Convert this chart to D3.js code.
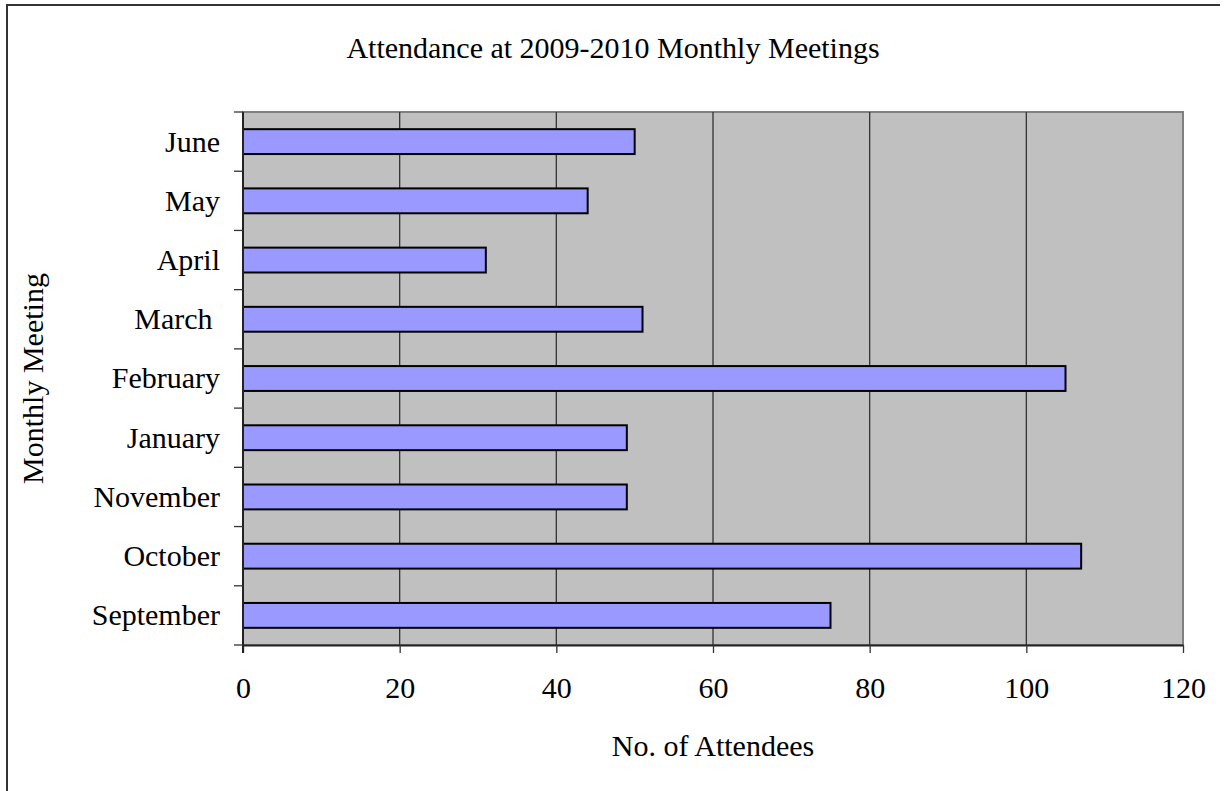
<!DOCTYPE html>
<html>
<head>
<meta charset="utf-8">
<script src="https://cdn.jsdelivr.net/npm/d3@7"></script>
<style>
  body { margin: 0; background: #fff; }
  text { font-family: "Liberation Serif", "Times New Roman", serif; fill: #000; }
</style>
</head>
<body>
<div id="chart"></div>
<script>
// Attendance bar chart (horizontal)

const months = ['September', 'October', 'November', 'January', 'February', 'March ', 'April', 'May', 'June'];
const attendees = [75, 107, 49, 49, 105, 51, 31, 44, 50];
const xTicks = [0, 20, 40, 60, 80, 100, 120];

const width = 1225, height = 791;
const plot = { left: 243, right: 1183, top: 112, bottom: 645 };

const svg = d3.select('#chart').append('svg')
    .attr('width', width)
    .attr('height', height);

// outer frame (only left and top edges are visible)
svg.append('path')
    .attr('d', `M7,${height} L7,5 L1220,5`)
    .attr('fill', 'none')
    .attr('stroke', '#333')
    .attr('stroke-width', 2);

const x = d3.scaleLinear()
    .domain([0, 120])
    .range([plot.left, plot.right]);

// first month at the bottom
const y = d3.scaleBand()
    .domain(months)
    .range([plot.bottom, plot.top])
    .paddingInner(0.58)
    .paddingOuter(0.29);

// plot background
svg.append('rect')
    .attr('x', plot.left)
    .attr('y', plot.top)
    .attr('width', plot.right - plot.left)
    .attr('height', plot.bottom - plot.top)
    .attr('fill', '#c0c0c0')
    .attr('stroke', '#808080')
    .attr('stroke-width', 2);

// vertical grid lines
svg.append('g')
    .selectAll('line')
    .data(xTicks.slice(1, -1))
    .enter()
    .append('line')
    .attr('x1', d => x(d))
    .attr('x2', d => x(d))
    .attr('y1', plot.top)
    .attr('y2', plot.bottom)
    .attr('stroke', '#333')
    .attr('stroke-width', 1.3);

// bars
svg.append('g')
    .selectAll('rect')
    .data(months)
    .enter()
    .append('rect')
    .attr('x', x(0))
    .attr('y', d => y(d))
    .attr('width', (d, i) => x(attendees[i]) - x(0))
    .attr('height', y.bandwidth())
    .attr('fill', '#9999ff')
    .attr('stroke', '#000')
    .attr('stroke-width', 2);

// x axis
const xAxis = svg.append('g')
    .attr('transform', `translate(0,${plot.bottom})`)
    .call(d3.axisBottom(x).tickValues(xTicks).tickSize(8).tickSizeOuter(0).tickPadding(24));
xAxis.select('.domain').attr('stroke', '#222').attr('stroke-width', 2);
xAxis.selectAll('.tick line').attr('stroke', '#333').attr('stroke-width', 1.3);
xAxis.selectAll('.tick text')
    .attr('font-family', '"Liberation Serif", serif')
    .attr('font-size', 30)
    .attr('fill', '#000');

// y axis: ticks sit on the category boundaries
const boundaries = d3.range(months.length + 1).map(i => plot.bottom - i * y.step());
const yAxis = svg.append('g');
yAxis.append('line')
    .attr('x1', plot.left).attr('x2', plot.left)
    .attr('y1', plot.top).attr('y2', plot.bottom + 8)
    .attr('stroke', '#222')
    .attr('stroke-width', 2);
yAxis.selectAll('.ytick')
    .data(boundaries)
    .enter()
    .append('line')
    .attr('class', 'ytick')
    .attr('x1', plot.left - 9).attr('x2', plot.left)
    .attr('y1', d => d).attr('y2', d => d)
    .attr('stroke', '#333')
    .attr('stroke-width', 1.3);
yAxis.selectAll('.ylabel')
    .data(months)
    .enter()
    .append('text')
    .attr('class', 'ylabel')
    .attr('xml:space', 'preserve')
    .style('white-space', 'pre')
    .attr('x', 220)
    .attr('y', d => y(d) + y.bandwidth() / 2)
    .attr('dy', '0.33em')
    .attr('text-anchor', 'end')
    .attr('font-size', 30)
    .text(d => d);

// titles
svg.append('text')
    .attr('x', 613)
    .attr('y', 58)
    .attr('text-anchor', 'middle')
    .attr('font-size', 30)
    .text('Attendance at 2009-2010 Monthly Meetings');

svg.append('text')
    .attr('x', (plot.left + plot.right) / 2)
    .attr('y', 756)
    .attr('text-anchor', 'middle')
    .attr('font-size', 30)
    .text('No. of Attendees');

svg.append('text')
    .attr('transform', `translate(43,${(plot.top + plot.bottom) / 2}) rotate(-90)`)
    .attr('text-anchor', 'middle')
    .attr('font-size', 30)
    .text('Monthly Meeting');
</script>
</body>
</html>
